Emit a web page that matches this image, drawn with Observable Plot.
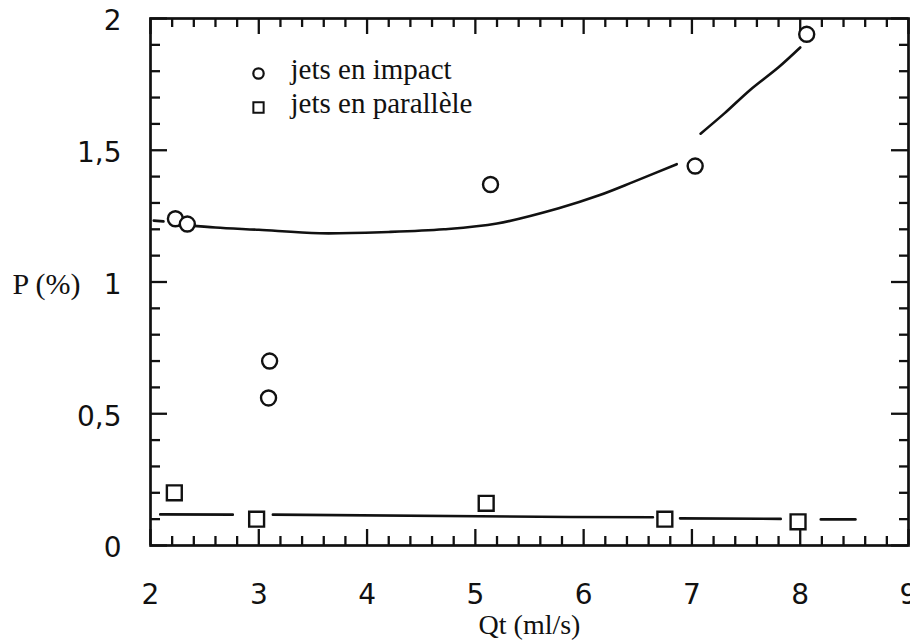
<!DOCTYPE html>
<html>
<head>
<meta charset="utf-8">
<script src="https://cdn.jsdelivr.net/npm/d3@7"></script>
<script src="https://cdn.jsdelivr.net/npm/@observablehq/plot@0.6"></script>
<style>
  html, body { margin: 0; padding: 0; background: #fff; }
  svg { display: block; }
</style>
</head>
<body>
<div id="chart"></div>
<script>
// ---- data ----
const impactQt = [2.23, 2.34, 3.10, 3.09, 5.14, 7.03, 8.06];
const impactP  = [1.24, 1.22, 0.70, 0.56, 1.37, 1.44, 1.94];

const paraQt = [2.22, 2.98, 5.10, 6.75, 7.98];
const paraP  = [0.20, 0.10, 0.16, 0.10, 0.09];

// fitted curves (hand-drawn, broken around the markers)
const impactFitSeg = ["a", "a",
  "b", "b", "b", "b", "b", "b", "b", "b", "b", "b", "b",
  "c", "c", "c", "c", "c"];
const impactFitQt = [2.03, 2.12,
  2.36, 2.6, 3.0, 3.56, 4.2, 4.71, 5.2, 5.77, 6.15, 6.46, 6.86,
  7.08, 7.3, 7.54, 7.8, 8.0];
const impactFitP = [1.233, 1.23,
  1.215, 1.207, 1.198, 1.185, 1.19, 1.20, 1.222, 1.28, 1.33, 1.38, 1.447,
  1.563, 1.64, 1.73, 1.815, 1.89];

const paraFitSeg = ["a", "a", "b", "b", "b", "c", "c", "d", "d"];
const paraFitQt  = [2.09, 2.76, 3.13, 5.88, 6.64, 6.89, 7.82, 8.19, 8.51];
const paraFitP   = [0.118, 0.117, 0.117, 0.108, 0.107, 0.103, 0.101, 0.099, 0.099];

// axes
const xTickLabels = [2, 3, 4, 5, 6, 7, 8, 9];
const yTickLabels = [0, 0.5, 1, 1.5, 2];
const xMinorTicks = [2.2, 2.4, 2.6, 2.8, 3.2, 3.4, 3.6, 3.8, 4.2, 4.4, 4.6, 4.8,
  5.2, 5.4, 5.6, 5.8, 6.2, 6.4, 6.6, 6.8, 7.2, 7.4, 7.6, 7.8, 8.2, 8.4, 8.6, 8.8];
const yMinorTicks = [0.1, 0.2, 0.3, 0.4, 0.6, 0.7, 0.8, 0.9,
  1.1, 1.2, 1.3, 1.4, 1.6, 1.7, 1.8, 1.9];

const legendLabels = ["jets en impact", "jets en parallèle"];
const xLabel = "Qt (ml/s)";
const yLabel = "P (%)";

// ---- build tables ----
const impact = impactQt.map((q, i) => ({q, p: impactP[i]}));
const para = paraQt.map((q, i) => ({q, p: paraP[i]}));
const impactFit = impactFitQt.map((q, i) => ({q, p: impactFitP[i], s: impactFitSeg[i]}));
const paraFit = paraFitQt.map((q, i) => ({q, p: paraFitP[i], s: paraFitSeg[i]}));

// ---- layout ----
const W = 910, H = 643, mL = 150, mR = 2, mT = 18, mB = 98;
const innerW = W - mL - mR, innerH = H - mT - mB;

const sans = "DejaVu Sans, Liberation Sans, sans-serif";
const serif = "Liberation Serif, Times New Roman, serif";
const tk = {stroke: "#111", strokeWidth: 2.3};

const chart = Plot.plot({
  width: W,
  height: H,
  marginLeft: mL,
  marginRight: mR,
  marginTop: mT,
  marginBottom: mB,
  style: {background: "#fff", color: "#111"},
  x: {domain: [2, 9]},
  y: {domain: [0, 2]},
  marks: [
    // inward ticks (bottom, top, left, right)
    Plot.tickX(xMinorTicks, {...tk, x: d => d, insetTop: innerH - 9}),
    Plot.tickX(xTickLabels, {...tk, x: d => d, insetTop: innerH - 16}),
    Plot.tickX(xMinorTicks, {...tk, x: d => d, insetBottom: innerH - 9}),
    Plot.tickX(xTickLabels, {...tk, x: d => d, insetBottom: innerH - 16}),
    Plot.tickY(yMinorTicks, {...tk, y: d => d, insetRight: innerW - 10}),
    Plot.tickY(yTickLabels, {...tk, y: d => d, insetRight: innerW - 17}),
    Plot.tickY(yMinorTicks, {...tk, y: d => d, insetLeft: innerW - 9}),
    Plot.tickY(yTickLabels, {...tk, y: d => d, insetLeft: innerW - 17}),
    // tick labels
    Plot.axisX({anchor: "bottom", ticks: xTickLabels, tickSize: 0, tickPadding: 39,
      fontSize: 28, fontFamily: sans, label: null, tickFormat: d => String(d)}),
    Plot.axisY({anchor: "left", ticks: yTickLabels, tickSize: 0, tickPadding: 29, dy: 3,
      fontSize: 28, fontFamily: sans, label: null, tickFormat: d => String(d).replace(".", ",")}),
    Plot.frame({stroke: "#111", strokeWidth: 2.7}),
    // fitted lines
    Plot.line(impactFit, {x: "q", y: "p", z: "s", stroke: "#111", strokeWidth: 2.6, curve: "catmull-rom"}),
    Plot.line(paraFit, {x: "q", y: "p", z: "s", stroke: "#111", strokeWidth: 2.6}),
    // data points
    Plot.dot(impact, {x: "q", y: "p", symbol: "circle", r: 7.5, stroke: "#111", strokeWidth: 2.4, fill: "#fff"}),
    Plot.dot(para, {x: "q", y: "p", symbol: "square", r: 8.4, stroke: "#111", strokeWidth: 2.4, fill: "#fff"}),
    // legend
    Plot.dot([legendLabels[0]], {frameAnchor: "top-left", dx: 108, dy: 55, symbol: "circle", r: 5.2, stroke: "#111", strokeWidth: 2.2, fill: "#fff"}),
    Plot.dot([legendLabels[1]], {frameAnchor: "top-left", dx: 108, dy: 89, symbol: "square", r: 5.8, stroke: "#111", strokeWidth: 2, fill: "#fff"}),
    Plot.text([legendLabels[0]], {frameAnchor: "top-left", lineAnchor: "middle", dx: 140, dy: 51, text: d => d, textAnchor: "start", fontSize: 29, fontFamily: serif, fill: "#111"}),
    Plot.text([legendLabels[1]], {frameAnchor: "top-left", lineAnchor: "middle", dx: 140, dy: 85, text: d => d, textAnchor: "start", fontSize: 29, fontFamily: serif, fill: "#111"}),
    // axis titles
    Plot.text([yLabel], {frameAnchor: "left", lineAnchor: "middle", dx: -138, dy: 2, text: d => d, textAnchor: "start", fontSize: 30, fontFamily: serif, fill: "#111"}),
    Plot.text([xLabel], {frameAnchor: "bottom", lineAnchor: "middle", dy: 80, text: d => d, fontSize: 28, fontFamily: serif, fill: "#111"})
  ]
});

document.getElementById("chart").appendChild(chart);
</script>
</body>
</html>
